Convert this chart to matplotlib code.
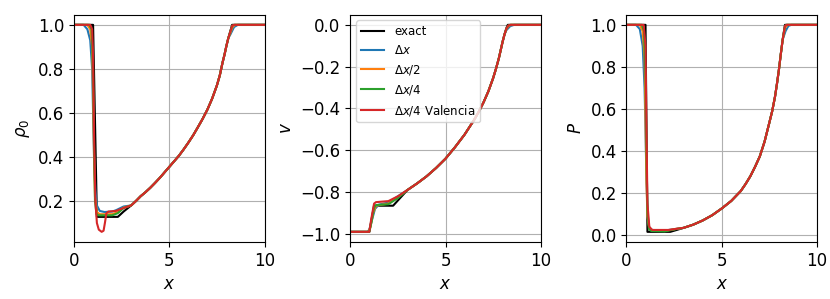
"""Shock tube comparison: exact solution against the numerical runs."""
import numpy as np
from matplotlib import pyplot as plt

plt.rcParams["font.size"] = 12

labels = ["exact", r"$\Delta x$", r"$\Delta x/2$", r"$\Delta x/4$", r"$\Delta x/4$ Valencia"]
colors = ["k", "C0", "C1", "C2", "C3"]

# rarefaction part, shared by every run
rho_fan_x = [3.0, 3.25, 3.5, 3.75, 4.0, 4.25, 4.5, 4.75, 5.0, 5.25, 5.5, 5.75, 6.0,
             6.25, 6.5, 6.75, 7.0, 7.25, 7.5, 7.65, 7.8, 7.9, 8.0, 8.1]
rho_fan = [0.18, 0.2, 0.222, 0.24, 0.26, 0.282, 0.305, 0.33, 0.355, 0.38, 0.405, 0.434, 0.465,
           0.498, 0.535, 0.573, 0.615, 0.665, 0.725, 0.77, 0.83, 0.865, 0.905, 0.94]
v_fan_x = [3.0, 3.5, 4.0, 4.5, 5.0, 5.5, 6.0, 6.25, 6.5, 6.75, 7.0, 7.25, 7.5,
           7.65, 7.8, 7.9, 8.0, 8.1]
v_fan = [-0.79, -0.759, -0.725, -0.685, -0.64, -0.585, -0.525, -0.49, -0.455, -0.415, -0.37,
         -0.318, -0.255, -0.21, -0.16, -0.12, -0.08, -0.045]
p_fan_x = [3.0, 3.5, 4.0, 4.5, 5.0, 5.5, 6.0, 6.25, 6.5, 6.75, 7.0, 7.25, 7.5,
           7.65, 7.8, 7.9, 8.0, 8.1, 8.2]
p_fan = [0.035, 0.05, 0.07, 0.095, 0.127, 0.163, 0.21, 0.243, 0.28, 0.325, 0.375, 0.445,
         0.535, 0.59, 0.66, 0.72, 0.785, 0.86, 0.93]

# left part (x < 3) per run: exact, dx, dx/2, dx/4, dx/4 Valencia
rho_left_x = [
    [0.0, 1.0, 1.2, 2.3, 2.6],
    [0.0, 0.5, 0.7, 0.85, 0.95, 1.0, 1.05, 1.12, 1.2, 1.35, 1.6, 2.0, 2.2, 2.6],
    [0.0, 0.7, 0.85, 0.95, 1.0, 1.05, 1.1, 1.2, 1.35, 2.0, 2.3, 2.6],
    [0.0, 0.8, 0.92, 1.0, 1.05, 1.1, 1.18, 1.3, 2.0, 2.3, 2.6],
    [0.0, 0.85, 0.95, 1.0, 1.05, 1.12, 1.2, 1.3, 1.45, 1.55, 1.62, 1.7, 1.8, 2.2, 2.5],
]
rho_left = [
    [1.0, 1.0, 0.128, 0.128, 0.152],
    [1.0, 1.0, 0.98, 0.93, 0.8, 0.6, 0.4, 0.25, 0.18, 0.155, 0.15, 0.152, 0.158, 0.175],
    [1.0, 1.0, 0.98, 0.9, 0.7, 0.4, 0.22, 0.15, 0.14, 0.14, 0.15, 0.17],
    [1.0, 1.0, 0.98, 0.8, 0.45, 0.2, 0.14, 0.135, 0.135, 0.145, 0.168],
    [1.0, 1.0, 0.98, 0.85, 0.5, 0.2, 0.1, 0.07, 0.06, 0.065, 0.1, 0.145, 0.152, 0.155, 0.165],
]
v_left_x = [
    [0.0, 1.0, 1.25, 2.25, 2.6],
    [0.0, 0.9, 1.0, 1.15, 1.3, 1.5, 2.0, 2.5],
    [0.0, 0.95, 1.05, 1.2, 1.35, 2.0, 2.5],
    [0.0, 1.0, 1.1, 1.25, 1.35, 2.0, 2.5],
    [0.0, 1.0, 1.1, 1.25, 1.35, 2.0, 2.5],
]
v_left = [
    [-0.99, -0.99, -0.865, -0.865, -0.83],
    [-0.99, -0.99, -0.98, -0.93, -0.88, -0.86, -0.85, -0.82],
    [-0.99, -0.99, -0.97, -0.9, -0.865, -0.855, -0.825],
    [-0.99, -0.99, -0.95, -0.875, -0.862, -0.858, -0.828],
    [-0.99, -0.99, -0.93, -0.855, -0.848, -0.843, -0.82],
]
p_left_x = [
    [0.0, 1.0, 1.1, 2.3, 2.6],
    [0.0, 0.5, 0.7, 0.85, 0.95, 1.0, 1.05, 1.12, 1.2, 1.35, 2.0, 2.6],
    [0.0, 0.7, 0.85, 0.95, 1.0, 1.05, 1.1, 1.2, 1.35, 2.0, 2.6],
    [0.0, 0.8, 0.92, 1.0, 1.05, 1.1, 1.18, 1.3, 2.0, 2.6],
    [0.0, 0.9, 1.0, 1.05, 1.1, 1.2, 1.35, 2.2, 2.6],
]
p_left = [
    [1.0, 1.0, 0.016, 0.016, 0.024],
    [1.0, 1.0, 0.98, 0.9, 0.7, 0.5, 0.25, 0.08, 0.035, 0.025, 0.022, 0.03],
    [1.0, 1.0, 0.97, 0.85, 0.55, 0.25, 0.09, 0.03, 0.022, 0.02, 0.03],
    [1.0, 1.0, 0.97, 0.75, 0.4, 0.12, 0.03, 0.02, 0.018, 0.029],
    [1.0, 1.0, 0.9, 0.5, 0.15, 0.04, 0.025, 0.025, 0.03],
]

# right corner (x > 8.1) per run
rho_right_x = [
    [8.2, 8.3, 10.0],
    [8.2, 8.4, 8.6, 10.0],
    [8.2, 8.32, 8.45, 10.0],
    [8.2, 8.3, 8.4, 10.0],
    [8.2, 8.3, 8.4, 10.0],
]
rho_right = [
    [0.97, 1.0, 1.0],
    [0.955, 0.99, 1.0, 1.0],
    [0.962, 0.99, 1.0, 1.0],
    [0.968, 0.996, 1.0, 1.0],
    [0.968, 0.996, 1.0, 1.0],
]
v_right_x = [
    [8.2, 8.27, 10.0],
    [8.2, 8.4, 8.6, 10.0],
    [8.2, 8.32, 8.45, 10.0],
    [8.2, 8.3, 8.4, 10.0],
    [8.2, 8.3, 8.4, 10.0],
]
v_right = [
    [-0.015, 0.0, 0.0],
    [-0.025, -0.006, 0.0, 0.0],
    [-0.02, -0.005, 0.0, 0.0],
    [-0.017, -0.003, 0.0, 0.0],
    [-0.017, -0.003, 0.0, 0.0],
]
p_right_x = [
    [8.32, 10.0],
    [8.35, 8.5, 8.65, 10.0],
    [8.32, 8.45, 10.0],
    [8.32, 8.4, 10.0],
    [8.32, 8.4, 10.0],
]
p_right = [
    [1.0, 1.0],
    [0.97, 0.995, 1.0, 1.0],
    [0.985, 1.0, 1.0],
    [0.995, 1.0, 1.0],
    [0.995, 1.0, 1.0],
]

panels = [
    (r"$\rho_0$", rho_left_x, rho_left, rho_fan_x, rho_fan, rho_right_x, rho_right),
    (r"$v$", v_left_x, v_left, v_fan_x, v_fan, v_right_x, v_right),
    (r"$P$", p_left_x, p_left, p_fan_x, p_fan, p_right_x, p_right),
]

fig, axes = plt.subplots(nrows=1, ncols=3, figsize=(8.3, 2.99), dpi=100)
fig.subplots_adjust(left=0.0892, right=0.9843, bottom=0.19, top=0.9515, wspace=0.45)

for ax, (ylabel, lx, ly, fx, fy, rx, ry) in zip(axes, panels):
    for i in range(len(labels)):
        xs = np.concatenate([lx[i], fx, rx[i]])
        ys = np.concatenate([ly[i], fy, ry[i]])
        ax.plot(xs, ys, color=colors[i], label=labels[i])
    ax.set_xlim(0, 10)
    ax.set_xlabel(r"$x$")
    ax.set_ylabel(ylabel)
    ax.grid(True)

axes[1].legend(loc="upper left", fontsize=8.5)

fig.savefig("out.png")
